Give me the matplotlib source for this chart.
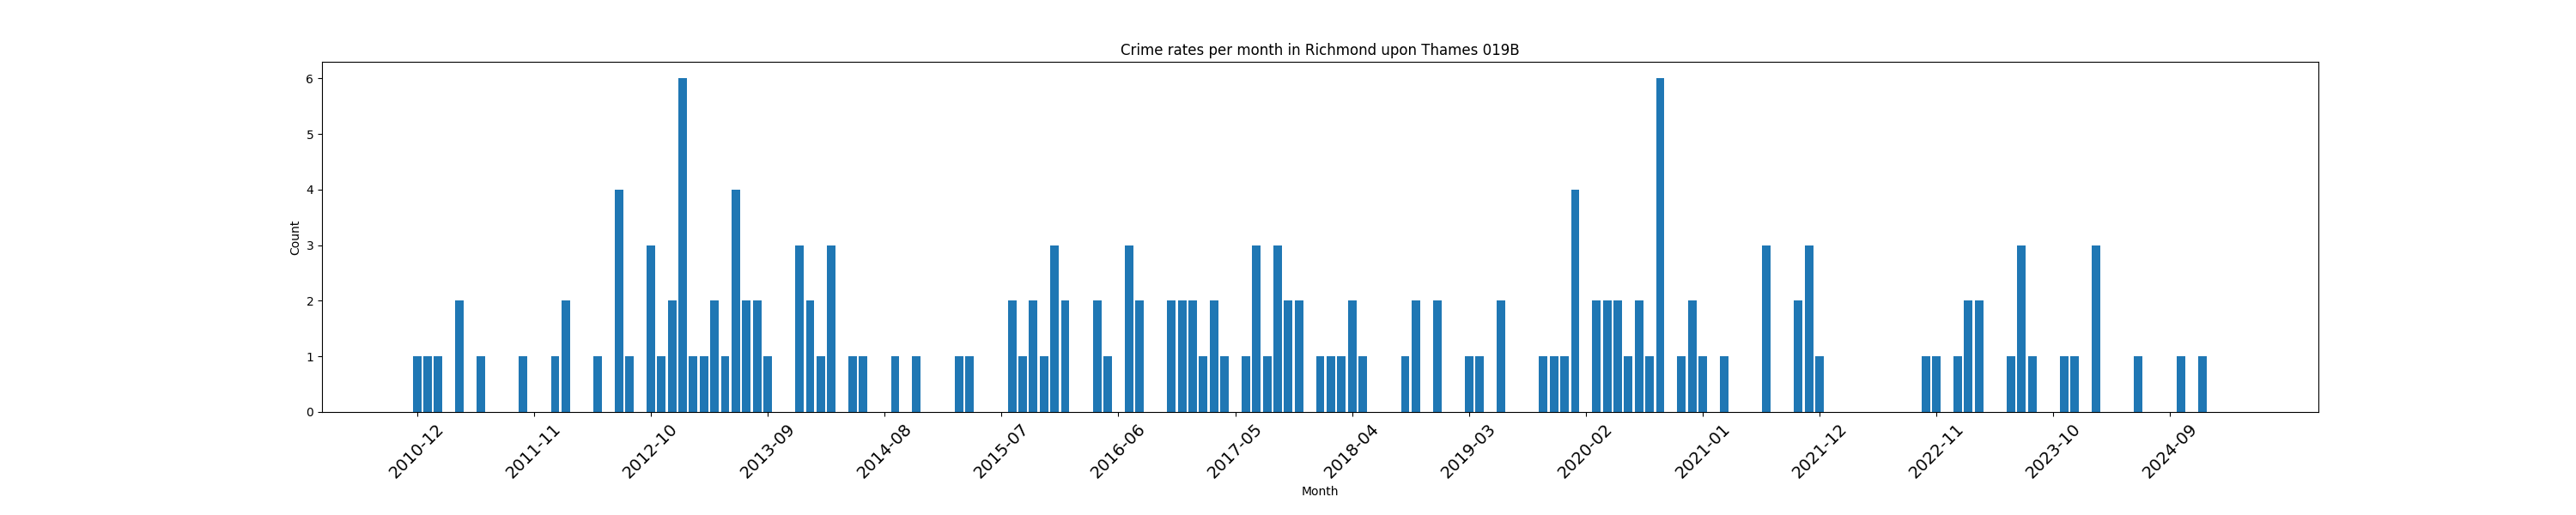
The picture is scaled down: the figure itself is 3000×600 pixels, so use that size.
import matplotlib
matplotlib.use("Agg")
import matplotlib.pyplot as plt
import pandas as pd

# months with at least one recorded crime (all other months are zero)
crime_months = [
    "2010-12", "2011-01", "2011-02", "2011-04", "2011-06", "2011-10",
    "2012-01", "2012-02", "2012-05", "2012-07", "2012-08", "2012-10", "2012-11", "2012-12",
    "2013-01", "2013-02", "2013-03", "2013-04", "2013-05", "2013-06", "2013-07", "2013-08", "2013-09", "2013-12",
    "2014-01", "2014-02", "2014-03", "2014-05", "2014-06", "2014-09", "2014-11",
    "2015-03", "2015-04", "2015-08", "2015-09", "2015-10", "2015-11", "2015-12",
    "2016-01", "2016-04", "2016-05", "2016-07", "2016-08", "2016-11", "2016-12",
    "2017-01", "2017-02", "2017-03", "2017-04", "2017-06", "2017-07", "2017-08", "2017-09", "2017-10", "2017-11",
    "2018-01", "2018-02", "2018-03", "2018-04", "2018-05", "2018-09", "2018-10", "2018-12",
    "2019-03", "2019-04", "2019-06", "2019-10", "2019-11", "2019-12",
    "2020-01", "2020-03", "2020-04", "2020-05", "2020-06", "2020-07", "2020-08", "2020-09", "2020-11", "2020-12",
    "2021-01", "2021-03", "2021-07", "2021-10", "2021-11", "2021-12",
    "2022-10", "2022-11",
    "2023-01", "2023-02", "2023-03", "2023-06", "2023-07", "2023-08", "2023-11", "2023-12",
    "2024-02", "2024-06", "2024-10", "2024-12",
]
crime_counts = [
    1, 1, 1, 2, 1, 1,
    1, 2, 1, 4, 1, 3, 1, 2,
    6, 1, 1, 2, 1, 4, 2, 2, 1, 3,
    2, 1, 3, 1, 1, 1, 1,
    1, 1, 2, 1, 2, 1, 3,
    2, 2, 1, 3, 2, 2, 2,
    2, 1, 2, 1, 1, 3, 1, 3, 2, 2,
    1, 1, 1, 2, 1, 1, 2, 2,
    1, 1, 2, 1, 1, 1,
    4, 2, 2, 2, 1, 2, 1, 6, 1, 2,
    1, 1, 3, 2, 3, 1,
    1, 1,
    1, 2, 2, 1, 3, 1, 1, 1,
    3, 1, 1, 1,
]
first_month = "2010-12"
last_month = "2025-02"

all_months = pd.period_range(first_month, last_month, freq="M").strftime("%Y-%m")
counts = pd.Series(crime_counts, index=crime_months).reindex(all_months, fill_value=0)

fig = plt.figure(figsize=(30, 6), dpi=100)
plt.bar(counts.index, counts.values)
plt.xticks(range(0, len(counts), 11), counts.index[::11], rotation=45, fontsize=14)
plt.xlabel("Month")
plt.ylabel("Count")
plt.title("Crime rates per month in Richmond upon Thames 019B")
plt.subplots_adjust(bottom=0.2)
plt.savefig("out.png")
plt.close()
